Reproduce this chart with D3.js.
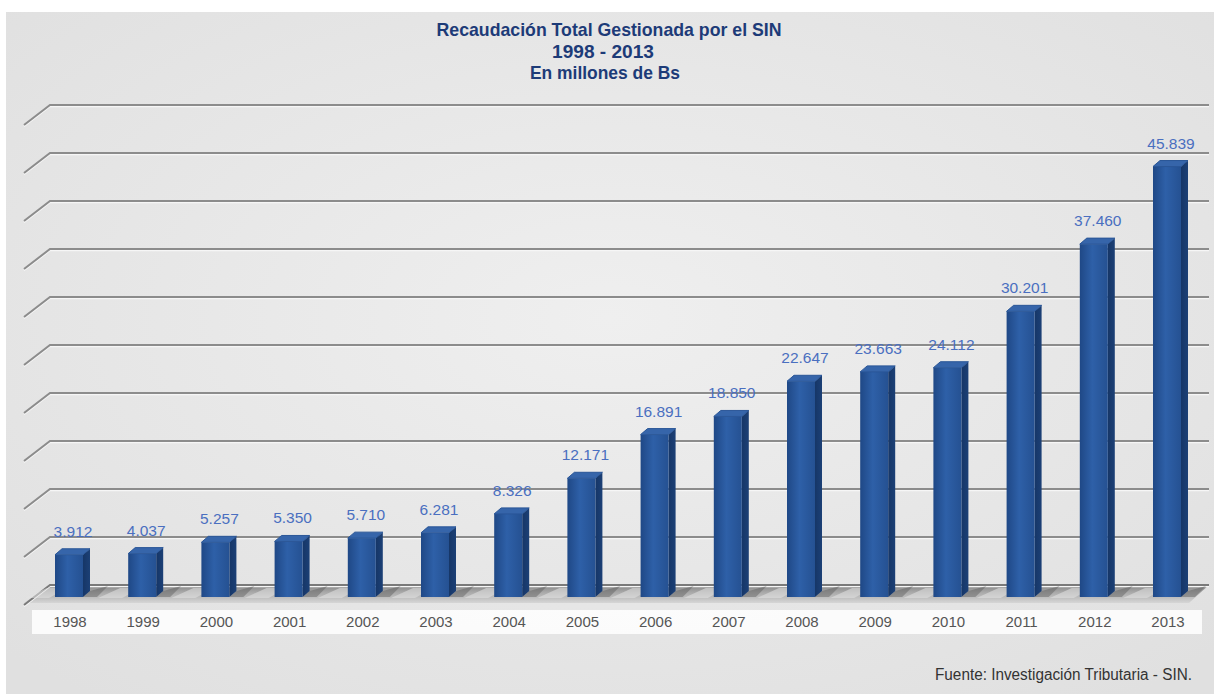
<!DOCTYPE html>
<html>
<head>
<meta charset="utf-8">
<script src="https://cdn.jsdelivr.net/npm/d3@7"></script>
<style>
    html, body { margin: 0; padding: 0; background: #ffffff; }
    svg { display: block; }
</style>
</head>
<body>
<div id="chart"></div>
<script>
// Recaudación por año (millones de Bs)
const years = ['1998', '1999', '2000', '2001', '2002', '2003', '2004', '2005',
    '2006', '2007', '2008', '2009', '2010', '2011', '2012', '2013'];
const values = [3912, 4037, 5257, 5350, 5710, 6281, 8326, 12171,
    16891, 18850, 22647, 23663, 24112, 30201, 37460, 45839];
const titleLines = ['Recaudación Total Gestionada por el SIN', '1998 - 2013', 'En millones de Bs'];
const gridLevels = d3.range(0, 11); // 10 bandas en la pared del fondo
const sourceText = 'Fuente: Investigación Tributaria - SIN.';

const width = 1214, height = 694;

const svg = d3.select("#chart")
    .append("svg")
    .attr("width", width)
    .attr("height", height);

const defs = svg.append("defs");

// background panel gradient
const bg = defs.append("radialGradient").attr("id", "bg")
    .attr("cx", "50%").attr("cy", "45%").attr("r", "70%");
bg.append("stop").attr("offset", "0%").attr("stop-color", "#efefef");
bg.append("stop").attr("offset", "100%").attr("stop-color", "#e0e0e0");

const floorGrad = defs.append("linearGradient").attr("id", "floor")
    .attr("x1", 0).attr("y1", 0).attr("x2", 0).attr("y2", 1);
floorGrad.append("stop").attr("offset", "0%").attr("stop-color", "#858585");
floorGrad.append("stop").attr("offset", "40%").attr("stop-color", "#a8a8a8");
floorGrad.append("stop").attr("offset", "100%").attr("stop-color", "#d6d6d6");

const frontGrad = defs.append("linearGradient").attr("id", "front")
    .attr("x1", 0).attr("y1", 0).attr("x2", 1).attr("y2", 0);
frontGrad.append("stop").attr("offset", "0%").attr("stop-color", "#1f4886");
frontGrad.append("stop").attr("offset", "45%").attr("stop-color", "#2e60a8");
frontGrad.append("stop").attr("offset", "100%").attr("stop-color", "#255192");

const sideGrad = defs.append("linearGradient").attr("id", "side")
    .attr("x1", 0).attr("y1", 0).attr("x2", 1).attr("y2", 0);
sideGrad.append("stop").attr("offset", "0%").attr("stop-color", "#163667");
sideGrad.append("stop").attr("offset", "100%").attr("stop-color", "#1c4076");

svg.append("rect")
    .attr("x", 6).attr("y", 12)
    .attr("width", width - 6).attr("height", height - 12)
    .attr("fill", "url(#bg)");

// layout
const floorBack = 585;     // value 0 on back wall
const depthX = 26, depthY = 20;
const wallLeft = 50, wallRight = 1209;
const barFrontBottom = 597;
const barW = 28, barDx = 7, barDy = 6;

const x = d3.scalePoint()
    .domain(years)
    .range([69, 69 + 15 * 73.2]);

const y = d3.scaleLinear()
    .domain([0, 50000])
    .range([floorBack, 122]);

const yGrid = d3.scaleLinear()
    .domain([0, 10])
    .range([floorBack, 105]);

// floor
svg.append("path")
    .attr("d", `M${wallLeft},${floorBack} L${wallRight},${floorBack} L${wallRight - 20},${floorBack + depthY - 2} L${wallLeft - depthX},${floorBack + depthY - 2} Z`)
    .attr("fill", "url(#floor)");

// gridlines (wall + diagonal side)
const grid = svg.append("g");
grid.selectAll(".grid-shadow")
    .data(gridLevels)
    .enter()
    .append("path")
    .attr("d", d => `M${wallLeft - depthX},${yGrid(d) + depthY + 1.5} L${wallLeft},${yGrid(d) + 1.5} L${wallRight},${yGrid(d) + 1.5}`)
    .attr("fill", "none")
    .attr("stroke", "#f6f6f6")
    .attr("stroke-width", 1.5);
grid.selectAll(".grid-line")
    .data(gridLevels)
    .enter()
    .append("path")
    .attr("d", d => `M${wallLeft - depthX},${yGrid(d) + depthY} L${wallLeft},${yGrid(d)} L${wallRight},${yGrid(d)}`)
    .attr("fill", "none")
    .attr("stroke", d => d === 0 ? "#7a7a7a" : "#8c8c8c")
    .attr("stroke-width", 2);

// light streaks and bar shadows on the floor
svg.append("g").selectAll("path")
    .data(values)
    .enter()
    .append("path")
    .attr("d", (d, i) => {
        const x0 = x(years[i]) - barW / 2;
        return `M${x0 - 30},${barFrontBottom + 1} L${x0 - 6},${barFrontBottom + 1} L${x0 + 12},${floorBack + 3} L${x0 - 8},${floorBack + 3} Z`;
    })
    .attr("fill", "#e4e4e4")
    .attr("opacity", 0.55);

svg.append("g").selectAll("path")
    .data(values)
    .enter()
    .append("path")
    .attr("d", (d, i) => {
        const x0 = x(years[i]) - barW / 2;
        return `M${x0 + barW},${barFrontBottom} L${x0 + barW + barDx},${barFrontBottom - barDy} L${x0 + barW + barDx + 18},${floorBack + 1} L${x0 + barW + 14},${barFrontBottom} Z`;
    })
    .attr("fill", "#5a5a5a")
    .attr("opacity", 0.45);

// bars
const bars = svg.append("g").selectAll("g")
    .data(values)
    .enter()
    .append("g");

bars.append("path")
    .attr("d", (d, i) => {
        const x0 = x(years[i]) - barW / 2, t = y(d);
        return `M${x0 + barW},${t + barDy} L${x0 + barW + barDx},${t} L${x0 + barW + barDx},${barFrontBottom - barDy} L${x0 + barW},${barFrontBottom} Z`;
    })
    .attr("fill", "url(#side)");

bars.append("rect")
    .attr("x", (d, i) => x(years[i]) - barW / 2)
    .attr("y", d => y(d) + barDy)
    .attr("width", barW)
    .attr("height", d => barFrontBottom - y(d) - barDy)
    .attr("fill", "url(#front)");

bars.append("path")
    .attr("d", (d, i) => {
        const x0 = x(years[i]) - barW / 2, t = y(d);
        return `M${x0},${t + barDy} L${x0 + barDx},${t} L${x0 + barW + barDx},${t} L${x0 + barW},${t + barDy} Z`;
    })
    .attr("fill", "#3665aa")
    .attr("stroke", "#2a5697")
    .attr("stroke-width", 1)
    .attr("stroke-linejoin", "round");

// value labels
const locale = d3.formatLocale({ decimal: ",", thousands: ".", grouping: [3], currency: ["", ""] });
const fmt = locale.format(",");

svg.append("g").selectAll("text")
    .data(values)
    .enter()
    .append("text")
    .attr("x", (d, i) => x(years[i]) + 4)
    .attr("y", d => y(d) - 12)
    .attr("text-anchor", "middle")
    .attr("font-family", "'Liberation Sans', Arial, sans-serif")
    .attr("font-size", "15.5px")
    .attr("fill", "#4a6fc0")
    .text(d => fmt(d));

// year strip
svg.append("rect")
    .attr("x", 32).attr("y", 610)
    .attr("width", 1170).attr("height", 24)
    .attr("fill", "#ffffff")
    .attr("opacity", 0.85);

svg.append("g").selectAll("text")
    .data(years)
    .enter()
    .append("text")
    .attr("x", d => x(d) + 1)
    .attr("y", 627)
    .attr("text-anchor", "middle")
    .attr("font-family", "'Liberation Sans', Arial, sans-serif")
    .attr("font-size", "15px")
    .attr("fill", "#555555")
    .text(d => d);

// title
const titleWidths = [345, 102, 150];
const titleX = [609, 603, 605];
const titleBase = [36, 58, 79];
svg.append("g").selectAll("text")
    .data(titleLines)
    .enter()
    .append("text")
    .attr("x", (d, i) => titleX[i])
    .attr("y", (d, i) => titleBase[i])
    .attr("text-anchor", "middle")
    .attr("font-family", "'Liberation Sans', Arial, sans-serif")
    .attr("font-weight", "bold")
    .attr("font-size", "19px")
    .attr("fill", "#1d3b78")
    .attr("textLength", (d, i) => titleWidths[i])
    .attr("lengthAdjust", "spacingAndGlyphs")
    .text(d => d);

// source
svg.append("text")
    .attr("x", 1192)
    .attr("y", 680)
    .attr("text-anchor", "end")
    .attr("font-family", "'Liberation Sans', Arial, sans-serif")
    .attr("font-size", "16px")
    .attr("fill", "#333333")
    .attr("textLength", 257)
    .attr("lengthAdjust", "spacingAndGlyphs")
    .text(sourceText);
</script>
</body>
</html>
